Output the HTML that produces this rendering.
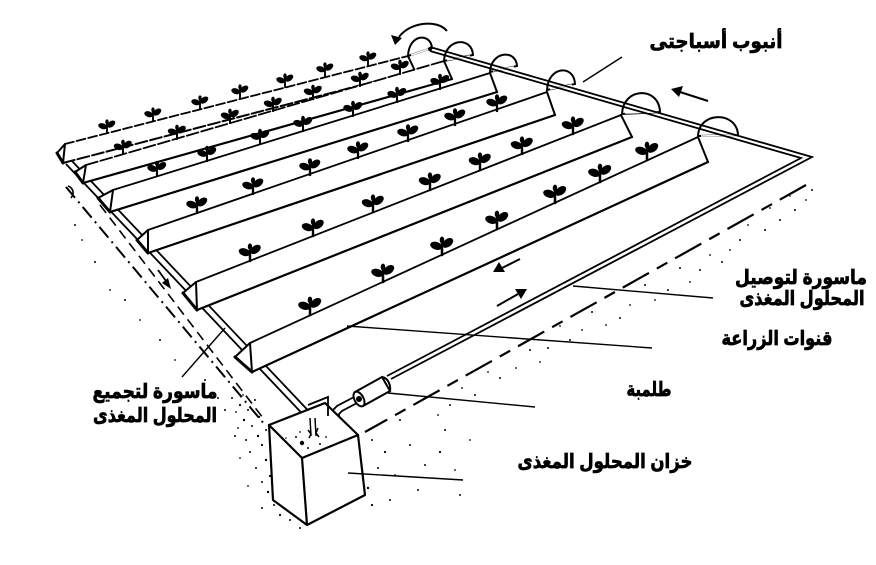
<!DOCTYPE html>
<html>
<head>
<meta charset="utf-8">
<style>
html,body{margin:0;padding:0;background:#fff;}
body{width:876px;height:565px;overflow:hidden;}
svg{display:block;}
.lbl{font-family:"Liberation Sans","DejaVu Sans",sans-serif;font-weight:bold;font-size:20px;fill:#000;stroke:#000;stroke-width:0.7px;}
</style>
</head>
<body>
<svg width="876" height="565" viewBox="0 0 876 565" xmlns="http://www.w3.org/2000/svg">
<defs>
  <g id="pl">
    <line x1="0" y1="1" x2="0" y2="-11" stroke="#000" stroke-width="2.2"/>
    <ellipse cx="-5" cy="-8" rx="5.4" ry="3.4" transform="rotate(18 -5 -8)" fill="#000"/>
    <ellipse cx="5" cy="-10.5" rx="5.4" ry="3.4" transform="rotate(-38 5 -10.5)" fill="#000"/>
    <ellipse cx="0" cy="-13" rx="2" ry="3" fill="#000"/>
  </g>
</defs>

<!-- stipple dots -->
<g fill="#000">
<circle cx="232" cy="398" r="1"/><circle cx="240" cy="405" r="1.1"/><circle cx="236" cy="412" r="0.9"/><circle cx="248" cy="410" r="1"/>
<circle cx="244" cy="420" r="1.2"/><circle cx="252" cy="426" r="1"/><circle cx="238" cy="428" r="0.9"/><circle cx="258" cy="436" r="1.2"/>
<circle cx="246" cy="440" r="1"/><circle cx="262" cy="445" r="1.1"/><circle cx="250" cy="452" r="1"/><circle cx="240" cy="458" r="0.9"/>
<circle cx="266" cy="460" r="1.2"/><circle cx="256" cy="468" r="1"/><circle cx="270" cy="476" r="1.1"/><circle cx="262" cy="482" r="1"/>
<circle cx="248" cy="486" r="0.9"/><circle cx="268" cy="492" r="1.2"/><circle cx="274" cy="505" r="1"/><circle cx="262" cy="508" r="1"/>
<circle cx="280" cy="515" r="1.1"/><circle cx="290" cy="520" r="1"/><circle cx="300" cy="528" r="1"/><circle cx="235" cy="436" r="1"/>
<circle cx="255" cy="400" r="1"/><circle cx="243" cy="395" r="0.9"/><circle cx="259" cy="417" r="1.1"/><circle cx="266" cy="430" r="1"/>
<circle cx="372" cy="440" r="1"/><circle cx="385" cy="452" r="1.1"/><circle cx="378" cy="468" r="1"/><circle cx="395" cy="475" r="0.9"/>
<circle cx="368" cy="488" r="1.2"/><circle cx="410" cy="445" r="1"/><circle cx="425" cy="465" r="1"/><circle cx="440" cy="452" r="1.1"/>
<circle cx="455" cy="470" r="0.9"/><circle cx="418" cy="490" r="1"/><circle cx="460" cy="495" r="1"/><circle cx="372" cy="505" r="1.1"/>
<circle cx="390" cy="500" r="1"/><circle cx="445" cy="430" r="1"/><circle cx="470" cy="440" r="0.9"/><circle cx="400" cy="420" r="1"/>
<circle cx="812" cy="190" r="1"/><circle cx="806" cy="200" r="0.9"/><circle cx="795" cy="210" r="1"/><circle cx="790" cy="196" r="0.8"/>
<circle cx="780" cy="220" r="1"/><circle cx="770" cy="208" r="0.9"/><circle cx="765" cy="230" r="1"/><circle cx="748" cy="225" r="0.9"/>
<circle cx="740" cy="240" r="1"/><circle cx="730" cy="250" r="0.9"/><circle cx="722" cy="262" r="1"/><circle cx="710" cy="255" r="0.9"/>
<circle cx="700" cy="270" r="1"/><circle cx="690" cy="282" r="0.9"/><circle cx="680" cy="268" r="1"/><circle cx="668" cy="290" r="1"/>
<circle cx="655" cy="300" r="0.9"/><circle cx="645" cy="285" r="1"/><circle cx="630" cy="305" r="0.9"/><circle cx="620" cy="318" r="1"/>
<circle cx="606" cy="325" r="0.9"/><circle cx="592" cy="312" r="1"/><circle cx="582" cy="330" r="0.9"/><circle cx="570" cy="340" r="1"/>
<circle cx="560" cy="326" r="0.9"/><circle cx="548" cy="348" r="1"/><circle cx="540" cy="362" r="0.9"/><circle cx="530" cy="350" r="1"/>
<circle cx="516" cy="368" r="0.9"/><circle cx="500" cy="378" r="1"/><circle cx="488" cy="372" r="0.9"/><circle cx="475" cy="395" r="1"/>
<circle cx="462" cy="388" r="0.9"/><circle cx="450" cy="405" r="1"/><circle cx="438" cy="415" r="0.9"/>
<circle cx="75" cy="225" r="1"/><circle cx="82" cy="240" r="0.9"/><circle cx="95" cy="262" r="1"/><circle cx="110" cy="290" r="0.9"/>
<circle cx="125" cy="300" r="1"/><circle cx="140" cy="320" r="0.9"/><circle cx="160" cy="340" r="1"/><circle cx="175" cy="360" r="0.9"/>
<circle cx="205" cy="380" r="1"/><circle cx="218" cy="398" r="1"/><circle cx="225" cy="410" r="1"/>
</g>

<!-- left ground lines -->
<g fill="none" stroke="#000" stroke-width="2">
  <path d="M66,187 L265,425" stroke-dasharray="14 5 2 5"/>
  <path d="M100,205 L263,418" stroke-dasharray="10 6" stroke-width="1.6"/>
  <path d="M68,186 C73,188 75,193 71,198" stroke-width="1.6"/>
</g>
<!-- right ground dashed line -->
<path d="M806,185 L365,432" fill="none" stroke="#000" stroke-width="2.2" stroke-dasharray="30 9 12 9"/>

<!-- collecting pipe -->
<g stroke="#000" stroke-width="1.8" fill="none">
  <line x1="66" y1="164" x2="313" y2="425"/>
  <line x1="72" y1="161" x2="319" y2="422"/>
</g>
<!-- small flow arrow on left strip -->
<line x1="158" y1="270" x2="166" y2="281" stroke="#000" stroke-width="1.8"/>
<polygon points="171,289 162,283 168,278" fill="#000"/>

<!-- channels -->
<g stroke="#000" stroke-linejoin="round" stroke-linecap="round">
  <!-- ch1 -->
  <polygon points="65,144 408,56 415,71 63,163" fill="#fff" stroke="none"/>
  <line x1="65" y1="144" x2="408" y2="56" stroke-width="1.8" stroke-dasharray="9 3"/>
  <line x1="63" y1="163" x2="415" y2="71" stroke-width="2" stroke-dasharray="12 3"/>
  <line x1="408" y1="56" x2="415" y2="71" stroke-width="2"/>
  <polygon points="65,144 57,153 63,163" fill="#fff" stroke-width="2"/>
  <line x1="57" y1="153" x2="63" y2="163" stroke-width="3"/>
  <!-- ch2 -->
  <polygon points="86,165 444,61 452,79 83,183" fill="#fff" stroke="none"/>
  <line x1="86" y1="165" x2="444" y2="61" stroke-width="1.8" stroke-dasharray="12 3"/>
  <line x1="83" y1="183" x2="452" y2="79" stroke-width="2.2"/>
  <line x1="444" y1="61" x2="452" y2="79" stroke-width="2"/>
  <polygon points="86,165 75,172 83,183" fill="#fff" stroke-width="2"/>
  <line x1="75" y1="172" x2="83" y2="183" stroke-width="3"/>
  <!-- ch3 -->
  <polygon points="113,190 490,73 497,92 110,212" fill="#fff" stroke="none"/>
  <line x1="113" y1="190" x2="490" y2="73" stroke-width="1.8"/>
  <line x1="110" y1="212" x2="497" y2="92" stroke-width="2.2"/>
  <line x1="490" y1="73" x2="497" y2="92" stroke-width="2"/>
  <polygon points="113,190 98,198 110,212" fill="#fff" stroke-width="2"/>
  <line x1="98" y1="198" x2="110" y2="212" stroke-width="3"/>
  <!-- ch4 -->
  <polygon points="148,230 547,92 555,115 148,253" fill="#fff" stroke="none"/>
  <line x1="148" y1="230" x2="547" y2="92" stroke-width="1.8"/>
  <line x1="148" y1="253" x2="555" y2="115" stroke-width="2.2"/>
  <line x1="547" y1="92" x2="555" y2="115" stroke-width="2"/>
  <polygon points="148,230 137,240 148,253" fill="#fff" stroke-width="2"/>
  <line x1="137" y1="240" x2="148" y2="253" stroke-width="3"/>
  <!-- ch5 -->
  <polygon points="196,282 621,115 632,137 197,310" fill="#fff" stroke="none"/>
  <line x1="196" y1="282" x2="621" y2="115" stroke-width="1.8"/>
  <line x1="197" y1="310" x2="632" y2="137" stroke-width="2.2"/>
  <line x1="621" y1="115" x2="632" y2="137" stroke-width="2"/>
  <polygon points="196,282 183,293 197,310" fill="#fff" stroke-width="2"/>
  <line x1="183" y1="293" x2="197" y2="310" stroke-width="3"/>
  <!-- ch6 -->
  <polygon points="250,343 698,137 708,162 252,372" fill="#fff" stroke="none"/>
  <line x1="250" y1="343" x2="698" y2="137" stroke-width="1.8"/>
  <line x1="252" y1="372" x2="708" y2="162" stroke-width="2.2"/>
  <line x1="698" y1="137" x2="708" y2="162" stroke-width="2"/>
  <polygon points="250,343 235,357 252,372" fill="#fff" stroke-width="2"/>
  <line x1="235" y1="357" x2="252" y2="372" stroke-width="3"/>
</g>

<!-- plants -->
<g>
  <use href="#pl" transform="translate(107,133) scale(0.85)"/><use href="#pl" transform="translate(153,121) scale(0.85)"/>
  <use href="#pl" transform="translate(200,109) scale(0.85)"/><use href="#pl" transform="translate(240,98) scale(0.85)"/>
  <use href="#pl" transform="translate(285,87) scale(0.85)"/><use href="#pl" transform="translate(325,76) scale(0.85)"/>
  <use href="#pl" transform="translate(368,65) scale(0.85)"/>

  <use href="#pl" transform="translate(123,154) scale(0.9)"/><use href="#pl" transform="translate(177,139) scale(0.9)"/>
  <use href="#pl" transform="translate(230,123) scale(0.9)"/><use href="#pl" transform="translate(273,111) scale(0.9)"/>
  <use href="#pl" transform="translate(313,99) scale(0.9)"/><use href="#pl" transform="translate(360,86) scale(0.9)"/>
  <use href="#pl" transform="translate(400,74) scale(0.9)"/>

  <use href="#pl" transform="translate(157,176) scale(0.95)"/><use href="#pl" transform="translate(207,161) scale(0.95)"/>
  <use href="#pl" transform="translate(260,144) scale(0.95)"/><use href="#pl" transform="translate(303,131) scale(0.95)"/>
  <use href="#pl" transform="translate(353,116) scale(0.95)"/><use href="#pl" transform="translate(397,102) scale(0.95)"/>
  <use href="#pl" transform="translate(440,89) scale(0.95)"/>

  <use href="#pl" transform="translate(197,213) scale(1.05)"/><use href="#pl" transform="translate(253,194) scale(1.05)"/>
  <use href="#pl" transform="translate(310,175) scale(1.05)"/><use href="#pl" transform="translate(358,158) scale(1.05)"/>
  <use href="#pl" transform="translate(408,141) scale(1.05)"/><use href="#pl" transform="translate(455,125) scale(1.05)"/>
  <use href="#pl" transform="translate(497,111) scale(1.05)"/>

  <use href="#pl" transform="translate(250,261) scale(1.1)"/><use href="#pl" transform="translate(313,236) scale(1.1)"/>
  <use href="#pl" transform="translate(373,212) scale(1.1)"/><use href="#pl" transform="translate(430,190) scale(1.1)"/>
  <use href="#pl" transform="translate(480,170) scale(1.1)"/><use href="#pl" transform="translate(522,154) scale(1.1)"/>
  <use href="#pl" transform="translate(573,134) scale(1.1)"/>

  <use href="#pl" transform="translate(310,315) scale(1.15)"/><use href="#pl" transform="translate(383,282) scale(1.15)"/>
  <use href="#pl" transform="translate(442,255) scale(1.15)"/><use href="#pl" transform="translate(497,229) scale(1.15)"/>
  <use href="#pl" transform="translate(555,203) scale(1.15)"/><use href="#pl" transform="translate(600,182) scale(1.15)"/>
  <use href="#pl" transform="translate(647,160) scale(1.15)"/>
</g>

<!-- humps -->
<g fill="#fff" stroke="#000" stroke-width="2">
  <path d="M408,56 C409,33 431,33 432,48 Z"/>
  <path d="M444,61 C445,38 472,36 473,55 Z"/>
  <path d="M490,72 C491,51 516,49 517,66 Z"/>
  <path d="M547,90 C548,66 574,64 575,84 Z"/>
  <path d="M622,114 C623,87 659,86 660,112 Z"/>
  <path d="M698,136 C699,111 737,111 738,135 Z"/>
</g>
<g stroke="#fff" stroke-width="1.6">
  <line x1="411" y1="55" x2="429" y2="49"/>
  <line x1="447" y1="60" x2="470" y2="56"/>
  <line x1="493" y1="71" x2="514" y2="67"/>
  <line x1="550" y1="89" x2="572" y2="85"/>
  <line x1="625" y1="113" x2="657" y2="112"/>
  <line x1="701" y1="136" x2="735" y2="135"/>
</g>

<!-- curved arrow at top -->
<path d="M447,31 C437,19 410,22 399,37" fill="none" stroke="#000" stroke-width="2"/>
<polygon points="395,45 391,35 402,38" fill="#000"/>

<!-- supply pipe -->
<g fill="none" stroke="#000" stroke-width="1.8" stroke-linejoin="miter">
  <polyline points="430,47 812,157 391,379"/>
  <polyline points="430,51 801,158 387,376"/>
</g>
<circle cx="430" cy="49" r="2" fill="#000"/>

<!-- pump -->
<g stroke="#000" stroke-width="2" fill="#fff">
  <polygon points="355,392 382,377 390,391 363,406"/>
  <path d="M382,377 C388,378 391,385 390,391" fill="none"/>
  <ellipse cx="359" cy="399" rx="4.5" ry="8" transform="rotate(-29 359 399)"/>
  <circle cx="359" cy="399" r="2" fill="#000"/>
</g>
<g fill="none" stroke="#000" stroke-width="1.8">
  <polyline points="354,397 337,406 333,410 333,438"/>
  <polyline points="357,403 342,411 339,414 339,438"/>
</g>

<!-- tank -->
<g stroke="#000" stroke-width="2.2" fill="#fff" stroke-linejoin="round">
  <polygon points="269,425 358,435 365,495 307,525 273,500"/>
  <polygon points="269,425 325,403 358,435 302,458"/>
  <line x1="302" y1="458" x2="307" y2="525"/>
</g>
<polyline points="308,405 328,397 328,416" fill="none" stroke="#000" stroke-width="1.8"/>
<g stroke="#000" stroke-width="1.5" fill="none">
  <line x1="310" y1="418" x2="311" y2="436"/>
  <line x1="315" y1="418" x2="316" y2="436"/>
  <path d="M308,430 l3,4 l-2,4" />
  <path d="M318,428 l-2,5 l3,4" />
</g>
<g fill="#000">
  <circle cx="302" cy="443" r="2.2"/><circle cx="296" cy="437" r="1"/><circle cx="308" cy="448" r="1"/>
  <circle cx="290" cy="446" r="0.9"/><circle cx="320" cy="444" r="1"/><circle cx="300" cy="432" r="0.9"/>
  <circle cx="326" cy="437" r="0.9"/><circle cx="286" cy="438" r="0.8"/>
</g>

<!-- leader lines -->
<g stroke="#000" stroke-width="1.4" fill="none">
  <line x1="622" y1="57" x2="583" y2="82"/>
  <line x1="573" y1="286" x2="713" y2="298"/>
  <line x1="347" y1="326" x2="652" y2="348"/>
  <line x1="388" y1="393" x2="535" y2="407"/>
  <line x1="348" y1="473" x2="463" y2="480"/>
  <line x1="182" y1="377" x2="225" y2="328"/>
</g>

<!-- arrows -->
<g fill="#000" stroke="#000">
  <line x1="708" y1="101" x2="680" y2="92" stroke-width="2"/>
  <polygon points="671,89 683,86 679,97" stroke="none"/>
  <line x1="497" y1="306" x2="518" y2="294" stroke-width="2"/>
  <polygon points="527,289 515,289 521,299" stroke="none"/>
  <line x1="520" y1="259" x2="502" y2="268" stroke-width="2"/>
  <polygon points="493,272 499,262 505,272" stroke="none"/>
</g>

<!-- labels -->
<g class="lbl" direction="rtl">
  <text x="716" y="48" text-anchor="middle" textLength="133" lengthAdjust="spacingAndGlyphs">أنبوب أسباجتى</text>
  <text x="801" y="284" text-anchor="middle" textLength="132" lengthAdjust="spacingAndGlyphs">ماسورة لتوصيل</text>
  <text x="802" y="305" text-anchor="middle" textLength="125" lengthAdjust="spacingAndGlyphs">المحلول المغذى</text>
  <text x="777" y="345" text-anchor="middle" textLength="111" lengthAdjust="spacingAndGlyphs">قنوات الزراعة</text>
  <text x="649" y="396" text-anchor="middle" textLength="45" lengthAdjust="spacingAndGlyphs">طلمبة</text>
  <text x="605" y="468" text-anchor="middle" textLength="175" lengthAdjust="spacingAndGlyphs">خزان المحلول المغذى</text>
  <text x="155" y="398" text-anchor="middle" textLength="125" lengthAdjust="spacingAndGlyphs">ماسورة لتجميع</text>
  <text x="155" y="422" text-anchor="middle" textLength="124" lengthAdjust="spacingAndGlyphs">المحلول المغذى</text>
</g>
</svg>
</body>
</html>
